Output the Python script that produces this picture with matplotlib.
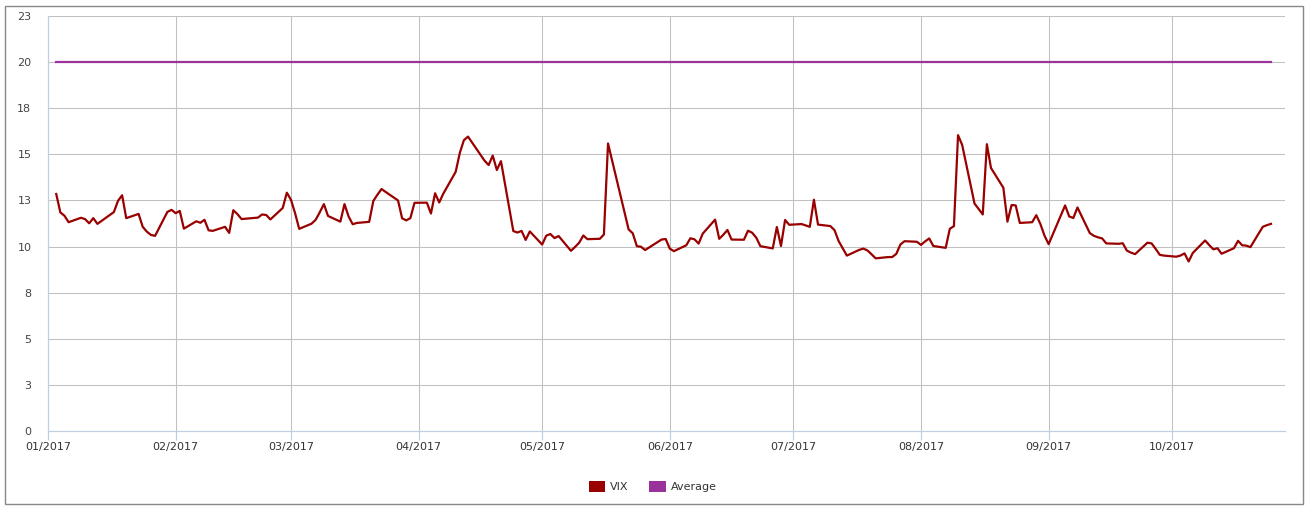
import math
import matplotlib
matplotlib.use("Agg")
import matplotlib.pyplot as plt
import matplotlib.dates as mdates
from matplotlib.patches import Patch, Rectangle
from matplotlib.ticker import FuncFormatter
import pandas as pd

# VIX daily closes 2017
vix_dates = [
    "01-03", "01-04", "01-05", "01-06", "01-09", "01-10", "01-11", "01-12", "01-13",
    "01-17", "01-18", "01-19", "01-20", "01-23", "01-24", "01-25", "01-26", "01-27",
    "01-30", "01-31", "02-01", "02-02", "02-03", "02-06", "02-07", "02-08", "02-09",
    "02-10", "02-13", "02-14", "02-15", "02-16", "02-17", "02-21", "02-22", "02-23",
    "02-24", "02-27", "02-28", "03-01", "03-02", "03-03", "03-06", "03-07", "03-08",
    "03-09", "03-10", "03-13", "03-14", "03-15", "03-16", "03-17", "03-20", "03-21",
    "03-22", "03-23", "03-24", "03-27", "03-28", "03-29", "03-30", "03-31", "04-03",
    "04-04", "04-05", "04-06", "04-07", "04-10", "04-11", "04-12", "04-13", "04-17",
    "04-18", "04-19", "04-20", "04-21", "04-24", "04-25", "04-26", "04-27", "04-28",
    "05-01", "05-02", "05-03", "05-04", "05-05", "05-08", "05-09", "05-10", "05-11",
    "05-12", "05-15", "05-16", "05-17", "05-22", "05-23", "05-24", "05-25", "05-26",
    "05-30", "05-31", "06-01", "06-02", "06-05", "06-06", "06-07", "06-08", "06-09",
    "06-12", "06-13", "06-14", "06-15", "06-16", "06-19", "06-20", "06-21", "06-22",
    "06-23", "06-26", "06-27", "06-28", "06-29", "06-30", "07-03", "07-05", "07-06",
    "07-07", "07-10", "07-11", "07-12", "07-13", "07-14", "07-17", "07-18", "07-19",
    "07-20", "07-21", "07-24", "07-25", "07-26", "07-27", "07-28", "07-31", "08-01",
    "08-02", "08-03", "08-04", "08-07", "08-08", "08-09", "08-10", "08-11", "08-14",
    "08-15", "08-16", "08-17", "08-18", "08-21", "08-22", "08-23", "08-24", "08-25",
    "08-28", "08-29", "08-30", "08-31", "09-01", "09-05", "09-06", "09-07", "09-08",
    "09-11", "09-12", "09-13", "09-14", "09-15", "09-18", "09-19", "09-20", "09-21",
    "09-22", "09-25", "09-26", "09-27", "09-28", "09-29", "10-02", "10-03", "10-04",
    "10-05", "10-06", "10-09", "10-10", "10-11", "10-12", "10-13", "10-16", "10-17",
    "10-18", "10-19", "10-20", "10-23", "10-24", "10-25",
]
vix_values = [
    12.85, 11.85, 11.67, 11.32, 11.56, 11.49, 11.26, 11.54, 11.23,
    11.87, 12.48, 12.78, 11.54, 11.77, 11.07, 10.81, 10.63, 10.58,
    11.88, 11.99, 11.81, 11.93, 10.97, 11.37, 11.29, 11.45, 10.88,
    10.85, 11.07, 10.74, 11.97, 11.76, 11.49, 11.57, 11.74, 11.71,
    11.47, 12.09, 12.92, 12.54, 11.81, 10.96, 11.24, 11.45, 11.86,
    12.30, 11.66, 11.35, 12.30, 11.63, 11.21, 11.28, 11.34, 12.47,
    12.81, 13.12, 12.96, 12.50, 11.53, 11.42, 11.54, 12.37, 12.38,
    11.79, 12.89, 12.39, 12.87, 14.05, 15.07, 15.77, 15.96, 14.66,
    14.42, 14.93, 14.15, 14.63, 10.84, 10.76, 10.85, 10.36, 10.82,
    10.11, 10.59, 10.68, 10.46, 10.57, 9.77, 9.98, 10.21, 10.60,
    10.40, 10.42, 10.65, 15.59, 10.93, 10.72, 10.02, 9.99, 9.81,
    10.38, 10.41, 9.89, 9.75, 10.07, 10.45, 10.39, 10.16, 10.70,
    11.46, 10.42, 10.64, 10.90, 10.38, 10.37, 10.86, 10.75, 10.48,
    10.02, 9.90, 11.06, 10.03, 11.44, 11.18, 11.22, 11.07, 12.54,
    11.19, 11.11, 10.89, 10.30, 9.90, 9.51, 9.82, 9.89, 9.79,
    9.58, 9.36, 9.43, 9.43, 9.60, 10.11, 10.29, 10.26, 10.09,
    10.28, 10.44, 10.03, 9.93, 10.96, 11.11, 16.04, 15.51, 12.33,
    12.04, 11.74, 15.55, 14.26, 13.19, 11.35, 12.25, 12.23, 11.28,
    11.32, 11.70, 11.22, 10.59, 10.13, 12.23, 11.63, 11.55, 12.12,
    10.73, 10.58, 10.50, 10.44, 10.17, 10.15, 10.18, 9.78, 9.67,
    9.59, 10.21, 10.17, 9.87, 9.55, 9.51, 9.45, 9.51, 9.63,
    9.19, 9.65, 10.33, 10.08, 9.85, 9.91, 9.61, 9.91, 10.31,
    10.07, 10.05, 9.97, 11.07, 11.16, 11.23,
]
average_value = 20
series_names = ["VIX", "Average"]
colors = ["#990000", "#993399"]

dates = pd.to_datetime(["2017-" + d for d in vix_dates])

fig = plt.figure(figsize=(13.13, 5.07), dpi=100)
ax = fig.add_axes([48 / 1313, 76 / 507, 1237 / 1313, 415 / 507])

ax.plot(dates, vix_values, color=colors[0], lw=1.6, zorder=3)
ax.plot([dates[0], dates[-1]], [average_value, average_value], color=colors[1], lw=1.6, zorder=3)

x0 = pd.Timestamp("2017-01-01")
ax.set_xlim(x0, x0 + pd.Timedelta(days=300.4))
ax.set_ylim(0, 22.5)

ax.xaxis.set_major_locator(mdates.MonthLocator())
ax.xaxis.set_major_formatter(mdates.DateFormatter("%m/%Y"))
ax.set_yticks([i * 2.5 for i in range(10)])
ax.yaxis.set_major_formatter(FuncFormatter(lambda v, p: str(math.floor(v + 0.5))))

ax.grid(True, color="#c0c0c0", lw=0.75, zorder=0)
for s in ["top", "right"]:
    ax.spines[s].set_visible(False)
for s in ["left", "bottom"]:
    ax.spines[s].set_color("#c0d0e0")
    ax.spines[s].set_linewidth(0.9)
ax.spines["bottom"].set_zorder(4)

ax.tick_params(axis="x", length=6.5, color="#c0d0e0", width=0.9, pad=1.5,
               labelsize=8, labelcolor="#333333")
ax.tick_params(axis="y", length=0, pad=12, labelsize=8, labelcolor="#444444")

handles = [Patch(facecolor=c, edgecolor="none") for c in colors]
fig.legend(handles, series_names, loc="center", bbox_to_anchor=(0.497, 0.04),
           ncol=2, frameon=False, fontsize=8, handlelength=1.5, handleheight=1.05,
           handletextpad=0.4, columnspacing=1.9, labelcolor="#333333")

fig.patches.append(Rectangle((5 / 1313, 3 / 507), 1298 / 1313, 498 / 507,
                             transform=fig.transFigure, fill=False,
                             edgecolor="#888888", lw=1.0))

fig.savefig("out.png", dpi=100, facecolor="white")
